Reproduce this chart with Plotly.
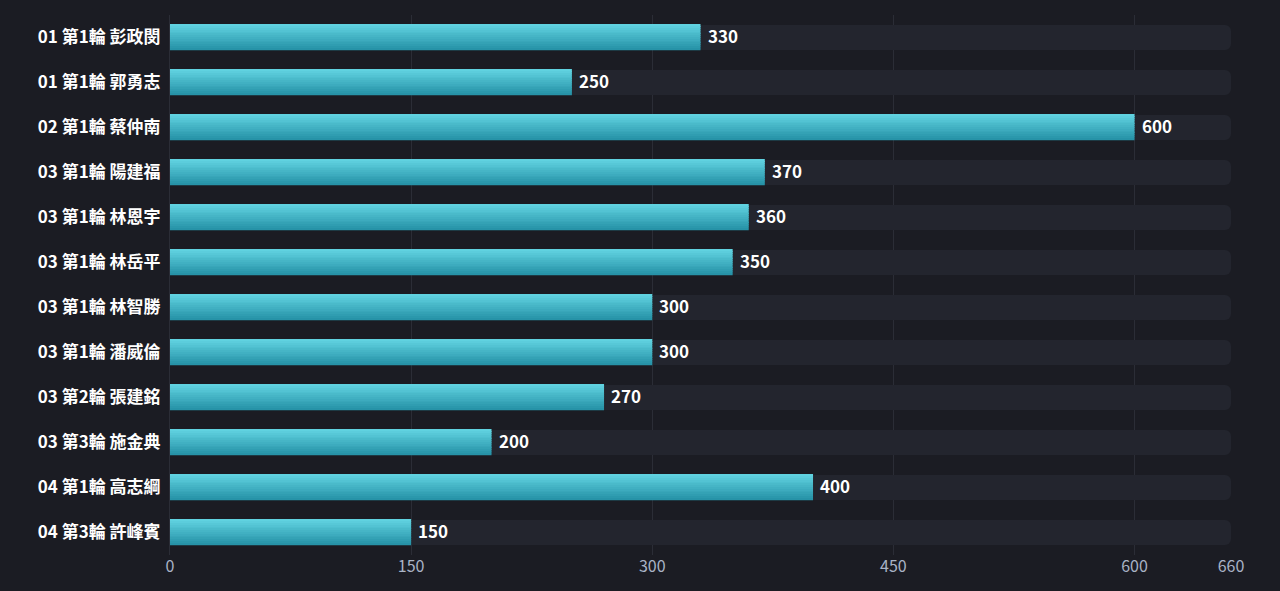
import plotly.graph_objects as go

categories = ["01 第1輪 彭政閔", "01 第1輪 郭勇志", "02 第1輪 蔡仲南", "03 第1輪 陽建福",
              "03 第1輪 林恩宇", "03 第1輪 林岳平", "03 第1輪 林智勝", "03 第1輪 潘威倫",
              "03 第2輪 張建銘", "03 第3輪 施金典", "04 第1輪 高志綱", "04 第3輪 許峰賓"]
values = [330, 250, 600, 370, 360, 350, 300, 300, 270, 200, 400, 150]
axis_max = 660
tick_vals = [0, 150, 300, 450, 600, 660]

BG = "#1b1c23"
TRACK = "#23252e"
GRID = "#2b2d36"
FONT = "Noto Sans CJK TC, Noto Sans, sans-serif"

W = 0.556
N = 14
top_rgb = (0x60, 0xd2, 0xe0)
bot_rgb = (0x27, 0x93, 0xa8)

fig = go.Figure()

# background tracks
fig.add_trace(go.Bar(
    y=categories, x=[axis_max] * len(categories), orientation="h",
    width=W, offset=-W / 2, marker=dict(color=TRACK, line=dict(width=0), cornerradius=6),
    hoverinfo="skip", showlegend=False))

# gradient bars built from horizontal slices
for i in range(N):
    t = i / (N - 1)
    c = tuple(round(top_rgb[k] + (bot_rgb[k] - top_rgb[k]) * t) for k in range(3))
    fig.add_trace(go.Bar(
        y=categories, x=values, orientation="h",
        width=W / N + 0.003, offset=-W / 2 + i * W / N,
        marker=dict(color="rgb(%d,%d,%d)" % c, line=dict(width=0)),
        hoverinfo="skip", showlegend=False))

# value labels
for cat, v in zip(categories, values):
    fig.add_annotation(x=v, y=cat, xref="x", yref="y", text=str(v), showarrow=False,
                       xanchor="left", yanchor="middle", xshift=5, yshift=2.5,
                       font=dict(color="#ffffff", size=17, family=FONT, weight="bold"))

fig.update_layout(
    width=1280, height=591,
    paper_bgcolor=BG, plot_bgcolor=BG,
    margin=dict(l=170, r=49, t=15, b=36),
    barmode="overlay",
    xaxis=dict(range=[0, axis_max], tickvals=tick_vals, showgrid=True, gridcolor=GRID,
               gridwidth=1, zeroline=False, showline=False, ticks="",
               tickfont=dict(color="#a9b3c6", size=16, family=FONT)),
    yaxis=dict(range=[len(categories) - 0.5, -0.5], showgrid=False, zeroline=False,
               showline=True, linecolor="#2b2d36", linewidth=1, ticks="",
               ticklabelstandoff=5,
               tickfont=dict(color="#ffffff", size=17, family=FONT, weight="bold")),
)

fig.write_html("out.html")
